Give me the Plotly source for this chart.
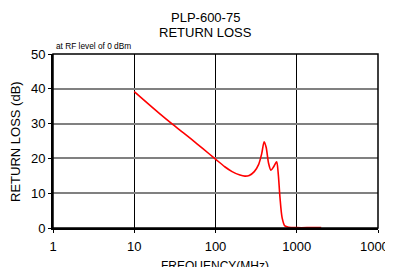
import plotly.graph_objects as go

freq_mhz = [10, 15, 20, 30, 40, 50, 70, 100, 130, 160, 200, 230, 260, 300, 340, 370, 397, 420, 450, 481, 520, 565, 590, 621, 660, 714, 800, 1000, 1500, 2000]
return_loss_db = [39.2, 35.6, 33.1, 29.7, 27.4, 25.6, 22.8, 19.8, 17.6, 16.2, 15.2, 14.9, 15.1, 16.2, 18.3, 21.3, 24.8, 23.2, 18.6, 16.6, 17.6, 19.0, 16.0, 8.9, 3.0, 0.6, 0.2, 0.1, 0.1, 0.1]
x_ticks = [1, 10, 100, 1000, 10000]
x_labels = ["1", "10", "100", "1000", "10000"]
y_ticks = [0, 10, 20, 30, 40, 50]

font = "Liberation Sans, Arial, sans-serif"

fig = go.Figure()
fig.add_trace(go.Scatter(x=freq_mhz, y=return_loss_db, mode="lines",
                         line=dict(color="#ff0000", width=1.6, shape="spline", smoothing=0.8),
                         showlegend=False, hoverinfo="skip"))

fig.update_layout(
    width=393, height=267,
    margin=dict(l=45, r=23, t=46, b=47),
    paper_bgcolor="white", plot_bgcolor="white",
    font=dict(family=font, size=13, color="black"),
    xaxis=dict(type="log", range=[0, 4], tickvals=x_ticks, ticktext=x_labels,
               showgrid=True, gridcolor="black", gridwidth=1,
               showline=True, linecolor="black", linewidth=2,
               ticks="outside", ticklen=3, tickcolor="black",
               tickfont=dict(family=font, size=13), ticklabeloverflow="allow",
               ticklabelstandoff=2,
               automargin=False, zeroline=False),
    yaxis=dict(range=[0, 50], tickvals=y_ticks,
               showgrid=True, gridcolor="#808080", gridwidth=1.5,
               showline=True, linecolor="black", linewidth=2,
               ticks="outside", ticklen=3, tickcolor="black",
               tickfont=dict(family=font, size=13), automargin=False,
               zeroline=False),
    shapes=[dict(type="rect", xref="paper", yref="paper", x0=0, x1=1, y0=0, y1=1,
                 line=dict(color="black", width=1.5), layer="above")],
    annotations=[
        dict(text="PLP-600-75", xref="paper", yref="paper", x=0.468, y=1.2126,
             xanchor="center", yanchor="middle", showarrow=False,
             font=dict(family=font, size=13, color="black")),
        dict(text="RETURN LOSS", xref="paper", yref="paper", x=0.468, y=1.1207,
             xanchor="center", yanchor="middle", showarrow=False,
             font=dict(family=font, size=13, color="black")),
        dict(text="at RF level of 0 dBm", xref="paper", yref="paper",
             x=0.003, y=1.046, xanchor="left", yanchor="middle", showarrow=False,
             font=dict(family=font, size=8.3, color="black")),
        dict(text="RETURN LOSS (dB)", xref="paper", yref="paper", x=-0.117, y=0.5,
             xanchor="center", yanchor="middle", textangle=-90, showarrow=False,
             font=dict(family=font, size=13, color="black")),
        dict(text="FREQUENCY(MHz)", xref="paper", yref="paper", x=0.498, y=-0.218,
             xanchor="center", yanchor="middle", showarrow=False,
             font=dict(family=font, size=12, color="black")),
    ],
)

fig.write_html("out.html")
